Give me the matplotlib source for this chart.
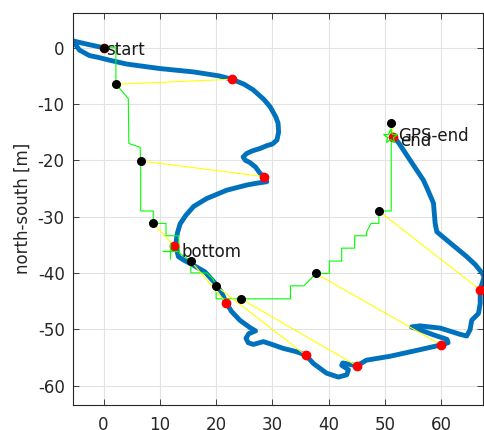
import numpy as np
import matplotlib.pyplot as plt

plt.rcParams['font.family'] = 'DejaVu Sans'
plt.rcParams['axes.unicode_minus'] = False

# reference track (east, north) in metres
track_e = [0.0, -2.8, -5.4, -4.3, -2.5, -1.0, 1.0, 4.1, 10.0, 16.0, 20.5, 22.8,
           25.0, 26.6, 28.5, 29.6, 30.6, 31.0, 31.1, 30.8, 30.0, 29.0, 27.8, 26.5,
           25.4, 24.8, 25.2, 26.0, 27.0, 27.8, 28.5, 29.0, 27.0, 25.4, 21.9, 18.3,
           16.0, 14.6, 13.6, 13.1, 12.9, 12.9, 13.0, 13.3, 14.2, 15.9, 18.0, 19.8,
           21.0, 21.8, 22.7, 24.2, 26.0, 27.0, 25.8, 25.3, 25.7, 26.6, 28.4, 30.2,
           31.9, 34.3, 35.9, 37.3, 39.6, 41.7, 43.2, 43.5, 42.3, 42.5, 44.0, 45.0,
           46.7, 50.9, 55.0, 59.9, 61.2, 61.0, 58.6, 56.2, 54.7, 56.2, 59.8, 63.3,
           64.5, 65.1, 65.4, 66.6, 66.9, 66.9, 67.6, 67.3, 66.0, 64.5, 61.0, 59.2,
           58.9, 58.6, 57.4, 56.8, 54.4, 52.5, 51.6]
track_n = [0.0, 0.6, 1.2, -0.4, -1.4, -1.7, -2.2, -2.9, -3.7, -4.3, -5.0, -5.6,
           -6.5, -7.5, -9.2, -10.5, -12.3, -13.4, -15.0, -16.4, -17.1, -17.4, -17.9, -18.3,
           -18.8, -19.4, -20.0, -20.4, -21.2, -22.3, -22.9, -23.8, -24.1, -24.4, -25.3, -26.8,
           -28.2, -29.8, -31.3, -33.0, -34.5, -35.2, -35.9, -37.1, -37.7, -38.6, -39.8, -41.8,
           -43.5, -45.3, -46.8, -48.4, -49.7, -50.3, -50.8, -51.6, -52.4, -52.7, -52.2, -52.8,
           -53.4, -54.0, -54.6, -56.1, -57.8, -58.5, -58.1, -57.2, -56.4, -56.0, -56.3, -56.5,
           -55.5, -54.8, -53.9, -52.8, -52.4, -51.8, -51.0, -50.1, -49.6, -49.4, -49.8, -50.9,
           -51.2, -50.1, -48.4, -47.2, -45.4, -43.0, -40.7, -40.1, -38.5, -37.1, -34.2, -32.7,
           -31.2, -27.6, -24.8, -23.5, -19.9, -17.0, -15.9]

# raw GPS trace (quantised)
gps_e = [0.0, 2.2, 2.2, 4.4, 4.5, 6.5, 6.6, 6.6, 8.85, 8.85, 11.1, 11.1, 13.3, 13.5,
         15.5, 15.5, 18.3, 19.4, 20.0, 20.0, 24.4, 33.2, 33.2, 35.6, 37.7, 40.1, 40.1,
         42.3, 42.3, 44.6, 44.6, 46.7, 46.7, 47.5, 48.9, 48.9, 51.1, 51.1]
gps_n = [0.0, 0.0, -6.5, -9.0, -17.0, -17.7, -20.1, -29.0, -29.0, -31.2, -31.2, -33.4, -33.4, -36.5,
         -37.9, -40.0, -40.0, -41.0, -42.3, -44.6, -44.6, -44.6, -42.3, -42.3, -40.1, -40.1, -37.9,
         -37.9, -35.6, -35.6, -33.4, -33.4, -32.8, -31.2, -31.2, -29.0, -29.0, -13.4]

# GPS fixes and matching track positions
fix_e = [0.0, 2.2, 6.6, 8.85, 15.5, 20.0, 24.4, 37.7, 48.9, 51.1]
fix_n = [0.0, -6.5, -20.1, -31.2, -37.9, -42.3, -44.6, -40.1, -29.0, -13.4]
ref_e = [0.0, 22.8, 28.5, 12.5, 21.8, 35.9, 45.0, 60.0, 66.9, 51.5]
ref_n = [0.0, -5.6, -22.9, -35.2, -45.3, -54.6, -56.5, -52.8, -43.0, -15.8]

gps_bottom = (11.8, -36.1)
gps_end = (50.9, -15.7)

fig = plt.figure(figsize=(4.84, 4.30), dpi=100)
ax = fig.add_axes([73 / 484, 1 - 405 / 430, 410 / 484, (405 - 12.7) / 430])

ax.plot(track_e, track_n, color='#0072BD', lw=3.5, solid_joinstyle='round',
        solid_capstyle='round', zorder=2)
ax.plot(gps_e, gps_n, color=(0, 1, 0), lw=0.8, zorder=3)
for i in range(len(fix_e)):
    ax.plot([fix_e[i], ref_e[i]], [fix_n[i], ref_n[i]], color=(1, 1, 0), lw=0.8, zorder=4)
ax.plot(ref_e, ref_n, 'o', color='r', ms=6, mec='r', zorder=5)
ax.plot(fix_e, fix_n, 'o', color='k', ms=5.5, zorder=6)
ax.plot(*gps_bottom, '+', color=(0, 1, 0), ms=11, mew=0.9, zorder=6)
ax.plot(*gps_end, '*', mfc='none', mec=(0, 1, 0), ms=10, mew=0.9, zorder=6)

txt = dict(fontsize=12, color='#1a1a1a', ha='left', va='center', zorder=7)
ax.text(0.45, -0.4, 'start', **txt)
ax.text(13.9, -36.3, 'bottom', **txt)
ax.text(52.4, -15.7, 'GPS-end', **txt)
ax.text(52.7, -16.5, 'end', **txt)

ax.set_xlim(-5.42, 67.4)
ax.set_ylim(-63.46, 6.22)
ax.set_xticks(np.arange(0, 61, 10))
ax.set_yticks(np.arange(-60, 1, 10))
ax.grid(True, color='#e3e3e3', lw=0.8)
ax.set_axisbelow(True)
ax.tick_params(direction='in', length=4, width=0.6, colors='#262626',
               labelsize=12, top=True, right=True)
ax.tick_params(axis='x', pad=8)
ax.tick_params(axis='y', pad=6)
for s in ax.spines.values():
    s.set_color('#262626')
    s.set_linewidth(0.8)

ax.set_ylabel('north-south [m]', fontsize=12, color='#262626')
ax.yaxis.label.set_va('center')
ax.yaxis.set_label_coords((22.7 - 73) / 410, 0.5)

fig.savefig('out.png', dpi=100)
